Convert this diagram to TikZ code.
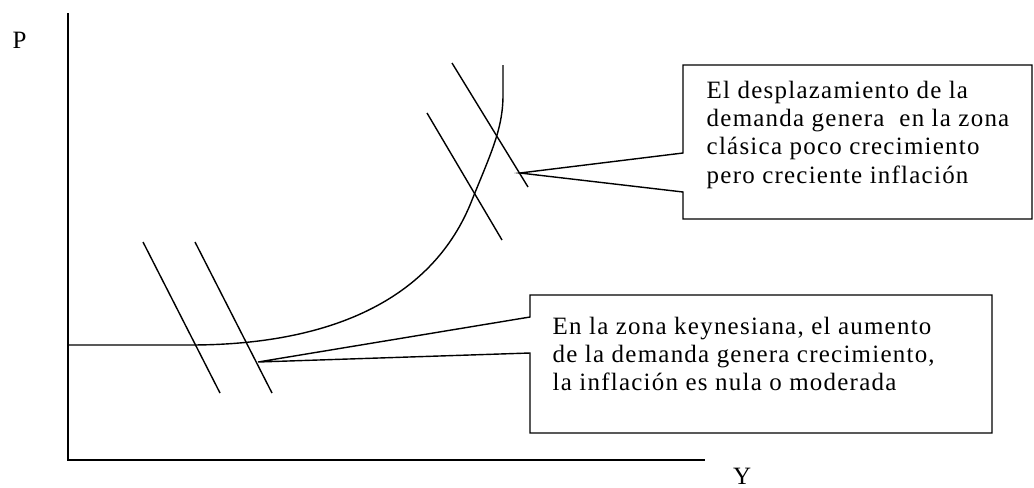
\documentclass[tikz,border=0pt]{standalone}
\usepackage{fontspec}
\setmainfont{Liberation Serif}[LetterSpace=5]
\usetikzlibrary{calc}

\begin{document}
\begin{tikzpicture}[x=0.02cm, y=-0.02cm, line width=0.8pt]

        % 0. Picture limits (pixel grid of the sketch, y downwards)
        \useasboundingbox (0,0) rectangle (1034,487);
        \tikzset{note/.style={font=\fontsize{14.2pt}{16.2pt}\selectfont, align=left, inner sep=0pt, anchor=north west},
                 axislabel/.style={font=\fontsize{14.2pt}{16.2pt}\selectfont, inner sep=0pt}}

        % 1. Axes
        \coordinate (O) at (68,460);      % origin
        \coordinate (Ptop) at (68,13);    % top of price axis
        \coordinate (Yend) at (705,460);  % end of output axis
        \draw (Ptop) -- (O) -- (Yend);
        \node[axislabel, anchor=north west] (P) at (12,31) {P};
        \node[axislabel, anchor=north] (Y) at (742,467) {Y};

        % 2. Supply curve: flat (keynesian) part, then bending to vertical (classical)
        \coordinate (S0) at (68,345);
        \coordinate (S1) at (190,345);
        \coordinate (S2) at (470,205);
        \coordinate (S3) at (503,95);
        \coordinate (S4) at (503,65);
        \draw (S0) -- (S1) .. controls (330,345) and (430,300) .. (S2)
              .. controls (490,155) and (503,130) .. (S3) -- (S4);

        % 3. Demand curves (two in each zone)
        \coordinate (DkA1) at (143,242); \coordinate (DkA2) at (220,393);
        \coordinate (DkB1) at (195,242); \coordinate (DkB2) at (272,393);
        \coordinate (DcA1) at (427,113); \coordinate (DcA2) at (502,240);
        \coordinate (DcB1) at (452,63);  \coordinate (DcB2) at (528,187);
        \draw (DkA1) -- (DkA2);
        \draw (DkB1) -- (DkB2);
        \draw (DcA1) -- (DcA2);
        \draw (DcB1) -- (DcB2);

        % 4. Callout for the classical zone
        \coordinate (tipC) at (520,173);
        \draw (tipC) -- (683,153) -- (683,65) -- (1032,65) -- (1032,219)
              -- (683,219) -- (683,192) -- cycle;
        \node[note] (clasica) at (706,80)
              {El desplazamiento de la\\demanda genera \ en la zona\\clásica poco crecimiento\\pero creciente inflación};

        % 5. Callout for the keynesian zone
        \coordinate (tipK) at (258,362);
        \draw (tipK) -- (530,317) -- (530,295) -- (992,295) -- (992,433)
              -- (530,433) -- (530,353) -- cycle;
        \node[note] (keynes) at (552,316)
              {En la zona keynesiana, el aumento\\de la demanda genera crecimiento,\\la inflación es nula o moderada};

\end{tikzpicture}
\end{document}
